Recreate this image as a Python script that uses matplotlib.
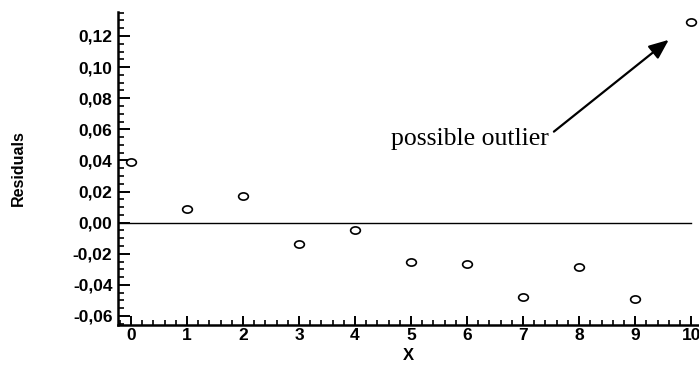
import matplotlib
matplotlib.use("Agg")
import matplotlib.pyplot as plt
from matplotlib.ticker import MultipleLocator, FuncFormatter
from matplotlib.path import Path
from matplotlib.transforms import Affine2D

x_vals = [0, 1, 2, 3, 4, 5, 6, 7, 8, 9, 10]
residuals = [0.039, 0.0085, 0.0174, -0.0137, -0.0047, -0.0255, -0.0266, -0.0476, -0.0287, -0.0493, 0.129]
annot_text = "possible outlier"

fig = plt.figure(figsize=(6.99, 3.82), dpi=100)
ax = fig.add_axes([118/699, 1-325/382, (699-118)/699, (325-12)/382])

ell = Path.unit_circle().transformed(Affine2D().scale(1.35, 1.0))
ax.plot(x_vals, residuals, linestyle="none", marker=ell, markersize=7,
        markerfacecolor="white", markeredgecolor="black", markeredgewidth=1.2, zorder=3)
ax.axhline(0, color="black", lw=1.0, xmin=0.0, xmax=(10.0 + 0.23) / (10.14 + 0.23))

ax.set_xlim(-0.23, 10.14)
ax.set_ylim(-0.0658, 0.1354)

ax.spines["top"].set_visible(False)
ax.spines["right"].set_visible(False)
for s in ("left", "bottom"):
    ax.spines[s].set_linewidth(1.8)

ax.xaxis.set_major_locator(MultipleLocator(1))
ax.xaxis.set_minor_locator(MultipleLocator(0.2))
ax.yaxis.set_major_locator(MultipleLocator(0.02))
ax.yaxis.set_minor_locator(MultipleLocator(0.005))
ax.yaxis.set_major_formatter(FuncFormatter(lambda v, p: f"{v:.2f}".replace(".", ",").replace("-0,00", "0,00")))

ax.tick_params(axis="y", which="major", direction="in", length=8.5, width=1.4, labelsize=12.5, pad=4)
ax.tick_params(axis="y", which="minor", direction="in", length=4.5, width=1.2)
ax.tick_params(axis="x", which="major", direction="in", length=6.5, width=1.4, labelsize=12.5, pad=2)
ax.tick_params(axis="x", which="minor", direction="in", length=3.5, width=1.2)
for lab in ax.get_xticklabels() + ax.get_yticklabels():
    lab.set_fontweight("bold")
    lab.set_fontfamily("Liberation Sans")

ax.set_xlabel("X", fontsize=12, fontweight="bold", family="Liberation Sans", labelpad=4)
ax.set_ylabel("Residuals", fontsize=11.5, fontweight="bold", family="Liberation Sans", labelpad=34)

ax.annotate("", xy=(9.6, 0.1175), xytext=(7.55, 0.0585),
            arrowprops=dict(arrowstyle="-|>,head_length=1.2,head_width=0.5", color="black", lw=1.6,
                            shrinkA=0, shrinkB=0))
ax.text(7.46, 0.0535, annot_text, ha="right", va="center", fontsize=18.5,
        family="Liberation Serif")

fig.savefig("out.png", dpi=100)
